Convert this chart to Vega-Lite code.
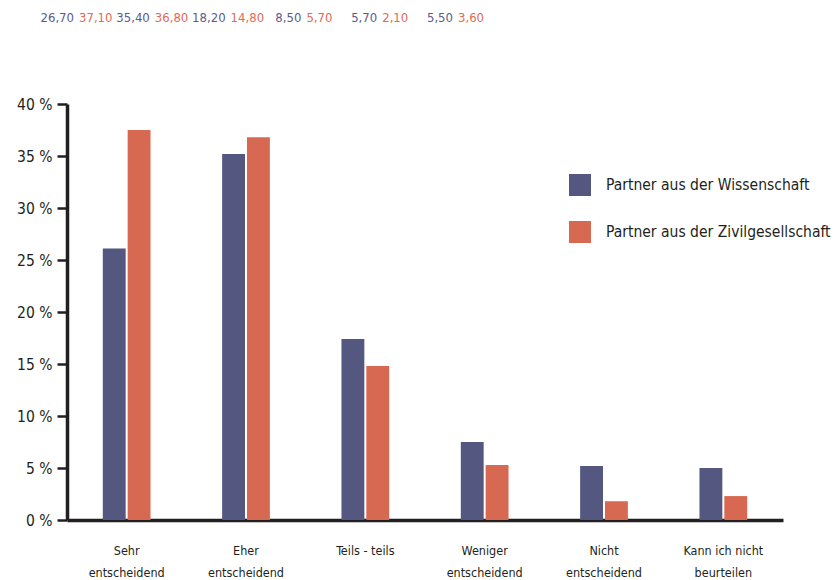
{
  "$schema": "https://vega.github.io/schema/vega-lite/v6.json",
  "autosize": {"type": "none"},
  "padding": {"left": 67, "top": 104, "right": 53, "bottom": 60},
  "width": 716,
  "height": 416,
  "background": "#ffffff",
  "data": {
    "values": [
      {"kategorie": "Sehr entscheidend", "reihe": "Partner aus der Wissenschaft", "wert": 26.1, "label": "26,70"},
      {"kategorie": "Sehr entscheidend", "reihe": "Partner aus der Zivilgesellschaft", "wert": 37.5, "label": "37,10"},
      {"kategorie": "Eher entscheidend", "reihe": "Partner aus der Wissenschaft", "wert": 35.2, "label": "35,40"},
      {"kategorie": "Eher entscheidend", "reihe": "Partner aus der Zivilgesellschaft", "wert": 36.8, "label": "36,80"},
      {"kategorie": "Teils - teils", "reihe": "Partner aus der Wissenschaft", "wert": 17.4, "label": "18,20"},
      {"kategorie": "Teils - teils", "reihe": "Partner aus der Zivilgesellschaft", "wert": 14.8, "label": "14,80"},
      {"kategorie": "Weniger entscheidend", "reihe": "Partner aus der Wissenschaft", "wert": 7.5, "label": "8,50"},
      {"kategorie": "Weniger entscheidend", "reihe": "Partner aus der Zivilgesellschaft", "wert": 5.3, "label": "5,70"},
      {"kategorie": "Nicht entscheidend", "reihe": "Partner aus der Wissenschaft", "wert": 5.2, "label": "5,70"},
      {"kategorie": "Nicht entscheidend", "reihe": "Partner aus der Zivilgesellschaft", "wert": 1.8, "label": "2,10"},
      {"kategorie": "Kann ich nicht beurteilen", "reihe": "Partner aus der Wissenschaft", "wert": 5.0, "label": "5,50"},
      {"kategorie": "Kann ich nicht beurteilen", "reihe": "Partner aus der Zivilgesellschaft", "wert": 2.3, "label": "3,60"}
    ]
  },
  "resolve": {"scale": {"x": "independent"}},
  "layer": [
    {
      "mark": {"type": "bar"},
      "encoding": {
        "x": {
          "field": "kategorie",
          "type": "nominal",
          "sort": null,
          "scale": {"paddingInner": 0.6, "paddingOuter": 0.3},
          "axis": {
            "title": null,
            "ticks": false,
            "labelAngle": 0,
            "labelPadding": 24,
            "labelFontSize": 12.5,
            "labelLineHeight": 22,
            "labelColor": "#231f20",
            "domainColor": "#231f20",
            "domainWidth": 3.5,
            "labelExpr": "datum.label == 'Teils - teils' ? datum.label : [substring(datum.label, 0, lastindexof(datum.label, ' ')), substring(datum.label, lastindexof(datum.label, ' ') + 1)]"
          }
        },
        "xOffset": {
          "field": "reihe",
          "type": "nominal",
          "scale": {"paddingInner": 0.08}
        },
        "y": {
          "field": "wert",
          "type": "quantitative",
          "scale": {"domain": [0, 40], "nice": false},
          "axis": {
            "title": null,
            "grid": false,
            "values": [0, 5, 10, 15, 20, 25, 30, 35, 40],
            "tickSize": 10,
            "tickWidth": 2.5,
            "tickColor": "#231f20",
            "domainColor": "#231f20",
            "domainWidth": 3.5,
            "labelPadding": 5,
            "labelFontSize": 15.5,
            "labelColor": "#231f20",
            "labelExpr": "datum.value + ' %'"
          }
        },
        "color": {
          "field": "reihe",
          "type": "nominal",
          "scale": {
            "domain": ["Partner aus der Wissenschaft", "Partner aus der Zivilgesellschaft"],
            "range": ["#545780", "#d76851"]
          },
          "legend": {
            "title": null,
            "orient": "none",
            "legendX": 502,
            "legendY": 70,
            "padding": 0,
            "symbolType": "square",
            "symbolSize": 484,
            "symbolStrokeWidth": 0,
            "labelFontSize": 15.5,
            "labelColor": "#231f20",
            "labelOffset": 15,
            "rowPadding": 25,
            "labelLimit": 0
          }
        }
      }
    },
    {
      "transform": [{"filter": "datum.reihe == 'Partner aus der Wissenschaft'"}],
      "mark": {"type": "text", "align": "right", "baseline": "middle", "dx": -2.5, "fontSize": 13, "color": "#5b5b8b"},
      "encoding": {
        "x": {
          "field": "kategorie",
          "type": "nominal",
          "sort": null,
          "scale": {"range": [-28.4, 426.4], "paddingInner": 0, "paddingOuter": 0},
          "axis": null
        },
        "y": {"datum": 48.3, "type": "quantitative"},
        "text": {"field": "label"}
      }
    },
    {
      "transform": [{"filter": "datum.reihe == 'Partner aus der Zivilgesellschaft'"}],
      "mark": {"type": "text", "align": "left", "baseline": "middle", "dx": 2.5, "fontSize": 13, "color": "#e06a52"},
      "encoding": {
        "x": {
          "field": "kategorie",
          "type": "nominal",
          "sort": null,
          "scale": {"range": [-28.4, 426.4], "paddingInner": 0, "paddingOuter": 0},
          "axis": null
        },
        "y": {"datum": 48.3, "type": "quantitative"},
        "text": {"field": "label"}
      }
    }
  ],
  "config": {
    "font": "Liberation Sans Narrow, DejaVu Sans Condensed, Roboto, sans-serif",
    "view": {"stroke": null}
  }
}
